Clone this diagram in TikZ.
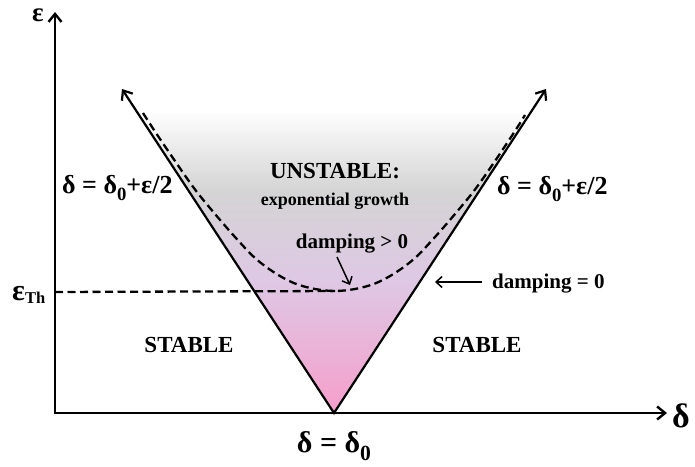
\documentclass[tikz,border=0pt]{standalone}
\usepackage{fontspec}
\setmainfont{Liberation Serif}
\usepackage{graphicx}
\usetikzlibrary{arrows.meta}
\definecolor{cpink}{RGB}{246,158,203}
\definecolor{clav}{RGB}{222,200,228}
\definecolor{cgray}{RGB}{212,212,212}
\definecolor{ctop}{RGB}{253,253,253}
\pgfdeclareverticalshading{vshade}{100bp}{color(0bp)=(cpink); color(25bp)=(cpink); color(47bp)=(clav); color(62bp)=(cgray); color(75bp)=(ctop); color(100bp)=(ctop)}
\newcommand\lsub[1]{\raisebox{-0.28em}{\scalebox{0.72}{#1}}}
\newcommand\fs[1]{\fontsize{#1}{#1}\selectfont}
\begin{document}
\begin{tikzpicture}[x=1pt,y=-1pt,
  txt/.style={inner sep=0pt, font=\bfseries},
  ax/.style={line width=2.4pt, line join=miter, {Straight Barb[length=8pt,width=13pt]}-{Straight Barb[length=8pt,width=13pt]}},
  vline/.style={line width=2.2pt, {Straight Barb[length=8pt,width=13pt]}-{Straight Barb[length=8pt,width=13pt]}},
  dsh/.style={line width=2.3pt, dash pattern=on 8pt off 4.5pt},
  smallarr/.style={line width=1.5pt, -{Straight Barb[length=6pt,width=11pt]}}]
\useasboundingbox (0,0) rectangle (695,466);
\coordinate (O) at (55,413);
\coordinate (Ytip) at (55,12);
\coordinate (Xtip) at (667,413);
\coordinate (V) at (334,413);
\coordinate (Ltip) at (122,89);
\coordinate (Rtip) at (546,89);
\coordinate (FL) at (138,113);
\coordinate (FR) at (530,113);
% gradient region
\shade[shading=vshade] (V) -- (FL) -- (FR) -- cycle;
% axes
\draw[ax] (Ytip) -- (O) -- (Xtip);
% V lines
\draw[vline] (Ltip) -- (V) -- (Rtip);
% dashed curve
\draw[dsh] plot[smooth, tension=0.55] coordinates {(143,113) (155,131.5) (175,161) (195,189.5) (215,214) (235,237) (255,258) (275,273) (295,283.5) (315,289) (335,291) (355,289) (375,283.5) (395,273) (415,258) (435,237) (455,214) (475,189.5) (495,161) (515,131) (525,115)};
% threshold line
\coordinate (ThL) at (55,292);
\coordinate (Cmin) at (335,291);
\draw[dsh] (ThL) -- (Cmin);
% labels
\node[txt, anchor=base west, text height=14pt] (eps) at (32,21) {\fs{27}ε};
\node[txt, anchor=base west] (del) at (672,427) {\fs{34}δ};
\node[txt, anchor=base west] (epsth) at (12,300) {\fs{30}ε\raisebox{-3pt}{\scalebox{0.55}{Th}}};
\node[txt, anchor=base west] (eqL) at (62,193) {\fs{26}δ = δ\lsub{0}+ε/2};
\node[txt, anchor=base west] (eqR) at (497,194) {\fs{26}δ = δ\lsub{0}+ε/2};
\node[txt, anchor=base] (unst) at (335,178) {\fs{23}UNSTABLE:};
\node[txt, anchor=base] (expg) at (335,205) {\fs{18}exponential growth};
\node[txt, anchor=base] (dgt) at (352,248) {\fs{21}damping > 0};
\node[txt, anchor=base west] (deq) at (492,288) {\fs{21}damping = 0};
\node[txt, anchor=base] (stL) at (189,352) {\fs{23}STABLE};
\node[txt, anchor=base] (stR) at (477,352) {\fs{23}STABLE};
\node[txt, anchor=base] (d0) at (334,452) {\fs{30}δ = δ\lsub{0}};
% small arrows
\coordinate (dgtA) at (337,257);
\coordinate (dgtB) at (350,285);
\draw[smallarr] (dgtA) -- (dgtB);
\coordinate (deqB) at (435,282);
\draw[smallarr] ([xshift=-10pt,yshift=6pt]deq.base west) -- (deqB);
\end{tikzpicture}
\end{document}
